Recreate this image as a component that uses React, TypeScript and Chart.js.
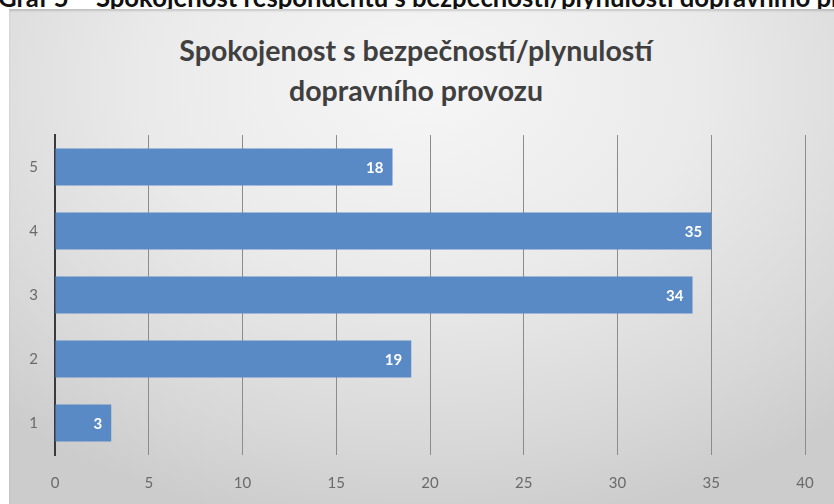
import React, { useEffect, useRef } from "react";
import { Chart, registerables } from "chart.js";

Chart.register(...registerables);

const categories = ["5", "4", "3", "2", "1"];
const values = [18, 35, 34, 19, 3];
const xTicks = [0, 5, 10, 15, 20, 25, 30, 35, 40];
const titleLines = ["Spokojenost s bezpečností/plynulostí", "dopravního provozu"];
const caption = "Graf 5 – Spokojenost respondentů s bezpečností/plynulostí dopravního provozu";

const valueLabels = {
  id: "valueLabels",
  afterDatasetsDraw(chart: any) {
    const ctx = chart.ctx;
    const meta = chart.getDatasetMeta(0);
    ctx.save();
    ctx.fillStyle = "#ffffff";
    ctx.font = "bold 15px Lato";
    ctx.textAlign = "right";
    ctx.textBaseline = "middle";
    meta.data.forEach((bar: any, i: number) => {
      ctx.fillText(String(values[i]), bar.x - 9, bar.y + 1);
    });
    ctx.restore();
  },
};

export default function App() {
  const ref = useRef<HTMLCanvasElement | null>(null);
  useEffect(() => {
    if (!ref.current) return;
    const chart = new Chart(ref.current, {
      type: "bar",
      data: {
        labels: categories,
        datasets: [
          {
            data: values,
            backgroundColor: "#5a8ac6",
            borderWidth: 0,
            barPercentage: 0.58,
            categoryPercentage: 1,
          },
        ],
      },
      options: {
        indexAxis: "y",
        animation: false,
        responsive: false,
        maintainAspectRatio: false,
        layout: { padding: { left: 0, right: 29, top: 135, bottom: 0 } },
        plugins: {
          legend: { display: false },
          tooltip: { enabled: false },
          title: { display: false },
        },
        scales: {
          x: {
            min: 0,
            max: 40,
            afterBuildTicks: (s: any) => {
              s.ticks = xTicks.map((v) => ({ value: v }));
            },
            afterFit: (s: any) => {
              s.height = 49;
            },
            grid: { color: "#8c8c8c", lineWidth: 1, drawTicks: false },
            border: { display: false },
            ticks: {
              color: "#6a6a6a",
              padding: 19,
              font: { family: "Lato", size: 15 },
            },
          },
          y: {
            afterFit: (s: any) => {
              s.width = 55;
            },
            grid: { display: false, drawTicks: false },
            border: { display: true, color: "#3a3a3a", width: 2 },
            ticks: {
              color: "#6a6a6a",
              padding: 17,
              font: { family: "Lato", size: 15 },
            },
          },
        },
      },
      plugins: [valueLabels],
    });
    return () => chart.destroy();
  }, []);

  return (
    <div
      style={{
        position: "fixed",
        left: 0,
        top: 0,
        width: 834,
        height: 504,
        overflow: "hidden",
        background: "#ffffff",
      }}
    >
      <div
        style={{
          position: "absolute",
          left: -2,
          top: -18,
          whiteSpace: "nowrap",
          font: "bold 25.7px Lato",
          color: "#111",
        }}
      >
        {caption}
      </div>
      <div
        style={{
          position: "absolute",
          left: 9,
          top: 9,
          width: 830,
          height: 500,
          background:
            "radial-gradient(ellipse 75% 90% at 50% 15%, #f6f6f6 0%, #eaeaea 45%, #d8d8d8 80%, #cccccc 100%)",
          boxShadow: "inset 0 2px 2px rgba(0,0,0,0.15)",
        }}
      />
      <div
        style={{
          position: "absolute",
          left: 0,
          top: 30,
          width: 832,
          textAlign: "center",
          font: "bold 28.5px Lato",
          lineHeight: "40px",
          color: "#3f3f3f",
        }}
      >
        {titleLines.map((t, i) => (
          <div key={i}>{t}</div>
        ))}
      </div>
      <canvas
        ref={ref}
        width={834}
        height={504}
        style={{ position: "absolute", left: 0, top: 0, width: 834, height: 504 }}
      />
    </div>
  );
}
